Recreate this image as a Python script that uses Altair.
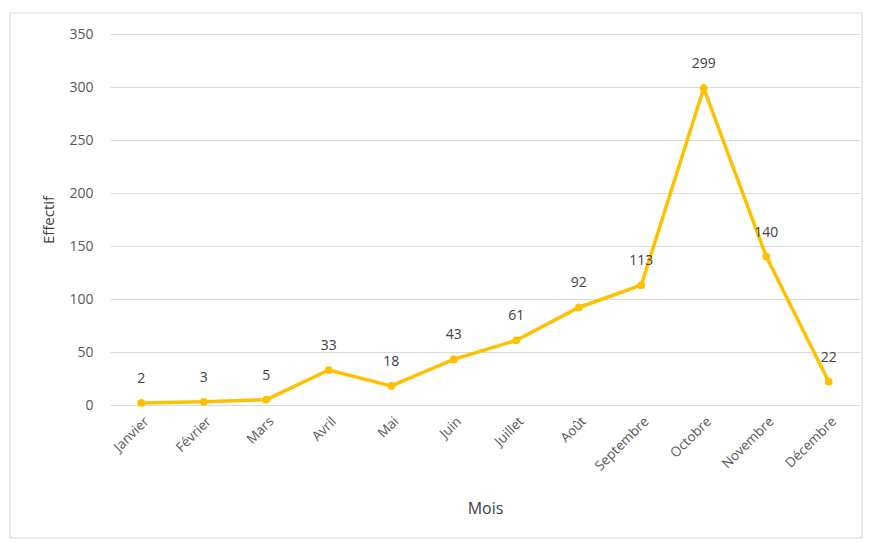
import altair as alt
import pandas as pd

mois = ["Janvier", "Février", "Mars", "Avril", "Mai", "Juin", "Juillet",
        "Août", "Septembre", "Octobre", "Novembre", "Décembre"]
effectif = [2, 3, 5, 33, 18, 43, 61, 92, 113, 299, 140, 22]

df = pd.DataFrame({"Mois": mois, "Effectif": effectif})

W, H = 750, 371
FONT = "Open Sans"
COL = "#FFC000"

x = alt.X("Mois:N", sort=mois, title="Mois",
          scale=alt.Scale(type="point", padding=0.5),
          axis=alt.Axis(labelAngle=-45, domain=False, ticks=False, grid=False,
                        labelFontSize=13.5, labelColor="#595959", labelFont=FONT,
                        labelPadding=9, titleFont=FONT, titleFontSize=16,
                        titleColor="#404040", titleFontWeight="normal",
                        titlePadding=28))
y = alt.Y("Effectif:Q", title="Effectif",
          scale=alt.Scale(domain=[0, 350]),
          axis=alt.Axis(values=list(range(0, 351, 50)), domain=False, ticks=False,
                        gridColor="#D9D9D9", labelFontSize=14, labelColor="#595959",
                        labelFont=FONT, labelPadding=17, titleFont=FONT,
                        titleFontSize=15, titleColor="#404040",
                        titleFontWeight="normal", titlePadding=12))

base = alt.Chart(df)

frame = base.mark_rect(fill=None, stroke="#D9D9D9", strokeWidth=1).encode(
    x=alt.value(-100), x2=alt.value(752), y=alt.value(-21), y2=alt.value(504)
).transform_filter(alt.datum.Mois == "Janvier")

line = base.mark_line(color=COL, strokeWidth=3.5).encode(x=x, y=y)
pts = base.mark_point(color=COL, filled=True, size=60, opacity=1).encode(x=x, y=y)
labels = base.mark_text(dy=-24, fontSize=14, font=FONT, color="#404040").encode(
    x=x, y=y, text="Effectif:Q")

chart = alt.layer(frame, line, pts, labels).properties(
    width=W, height=H,
    background="white",
    autosize=alt.AutoSizeParams(type="none"),
    padding={"left": 110, "top": 34, "right": 12, "bottom": 138},
).configure_view(stroke=None)

chart.save("out.html", embed_options={"renderer": "svg", "actions": False})
